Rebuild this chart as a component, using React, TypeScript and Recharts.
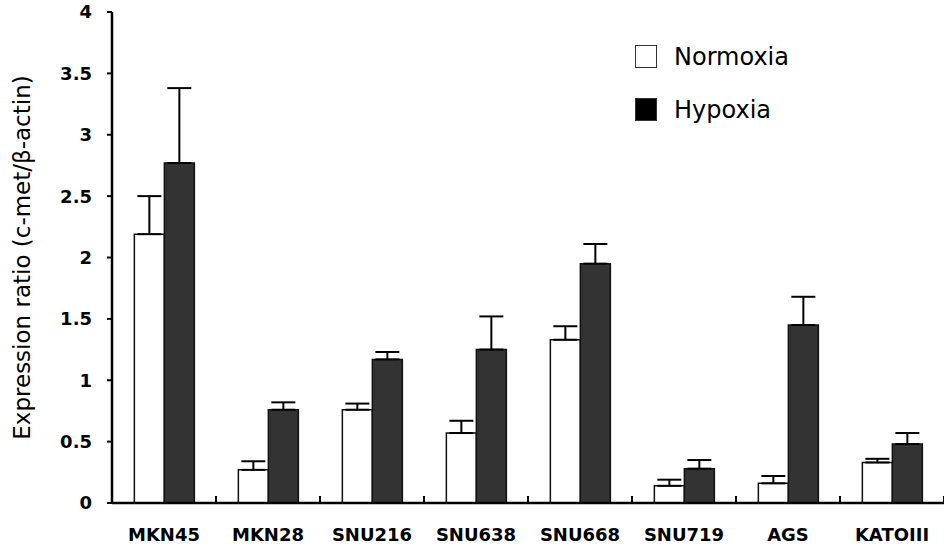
import { BarChart, Bar, XAxis, YAxis, ErrorBar, Legend } from "recharts";

const cellLines = ["MKN45", "MKN28", "SNU216", "SNU638", "SNU668", "SNU719", "AGS", "KATOIII"];
const normoxia = [2.19, 0.27, 0.76, 0.57, 1.33, 0.14, 0.16, 0.33];
const normoxiaErr = [0.31, 0.07, 0.05, 0.1, 0.11, 0.05, 0.06, 0.03];
const hypoxia = [2.77, 0.76, 1.17, 1.25, 1.95, 0.28, 1.45, 0.48];
const hypoxiaErr = [0.61, 0.06, 0.06, 0.27, 0.16, 0.07, 0.23, 0.09];
const yTicks = [0, 0.5, 1, 1.5, 2, 2.5, 3, 3.5, 4];

// only the upper half of each error bar is drawn
const data = cellLines.map((name, i) => ({
  name,
  normoxia: normoxia[i],
  nErr: [0, normoxiaErr[i]],
  hypoxia: hypoxia[i],
  hErr: [0, hypoxiaErr[i]],
}));

const legendItems = [
  { label: "Normoxia", fill: "#ffffff" },
  { label: "Hypoxia", fill: "#000000" },
];

const CHART_W = 944;
const CHART_H = 547;
const Y_AXIS_W = 112;
const X_TICK_MARGIN = 25;
const BAND = (CHART_W - Y_AXIS_W) / cellLines.length;

const renderLegend = () => (
  <div style={{ fontFamily: "DejaVu Sans", fontSize: 24, color: "#000" }}>
    {legendItems.map((item) => (
      <div key={item.label} style={{ display: "flex", alignItems: "center", height: 53 }}>
        <div
          style={{
            width: 22,
            height: 23,
            background: item.fill,
            border: "1.5px solid #333",
            boxSizing: "border-box",
            marginRight: 17,
          }}
        />
        <span>{item.label}</span>
      </div>
    ))}
  </div>
);

const tickFont = { fontFamily: "DejaVu Sans", fontSize: 18, fontWeight: "bold", fill: "#000" };

// category label plus the small inward tick at the right edge of each category
const CategoryTick = (props: any) => {
  const { x, y, payload } = props;
  const axisY = y - X_TICK_MARGIN;
  const edge = x + BAND / 2;
  return (
    <g>
      <path d={`M${edge},${axisY - 1} V${axisY - 7}`} stroke="#000" strokeWidth={2} fill="none" />
      <text x={x} y={y} dy="0.71em" textAnchor="middle" {...tickFont}>
        {payload.value}
      </text>
    </g>
  );
};

export default function App() {
  return (
    <div style={{ position: "absolute", left: 0, top: 0, background: "#fff" }}>
      <BarChart
        width={CHART_W}
        height={CHART_H}
        data={data}
        margin={{ top: 12, right: 0, bottom: 0, left: 0 }}
        barCategoryGap="21.5%"
        barGap={0}
      >
        <XAxis
          dataKey="name"
          height={44}
          tickLine={false}
          tickSize={0}
          tickMargin={X_TICK_MARGIN}
          interval={0}
          axisLine={{ stroke: "#000", strokeWidth: 2.5 }}
          tick={CategoryTick}
        />
        <YAxis
          domain={[0, 4]}
          ticks={yTicks}
          width={Y_AXIS_W}
          tickSize={5}
          tickMargin={15}
          interval={0}
          axisLine={{ stroke: "#000", strokeWidth: 2.5 }}
          tickLine={{ stroke: "#000", strokeWidth: 2 }}
          tick={tickFont}
          label={{
            value: "Expression ratio (c-met/β-actin)",
            angle: -90,
            position: "insideLeft",
            offset: 22,
            style: { fontFamily: "DejaVu Sans", fontSize: 23, fill: "#000", textAnchor: "middle" },
          }}
        />
        <Legend
          content={renderLegend}
          layout="horizontal"
          verticalAlign="middle"
          align="center"
          wrapperStyle={{ left: 635, top: 30, width: 200 }}
        />
        <Bar
          dataKey="normoxia"
          name="Normoxia"
          fill="#ffffff"
          stroke="#111"
          strokeWidth={1.5}
          isAnimationActive={false}
        >
          <ErrorBar dataKey="nErr" direction="y" width={12} stroke="#000" strokeWidth={2} />
        </Bar>
        <Bar
          dataKey="hypoxia"
          name="Hypoxia"
          fill="#333333"
          stroke="#111"
          strokeWidth={1.5}
          isAnimationActive={false}
        >
          <ErrorBar dataKey="hErr" direction="y" width={12} stroke="#000" strokeWidth={2} />
        </Bar>
      </BarChart>
    </div>
  );
}
